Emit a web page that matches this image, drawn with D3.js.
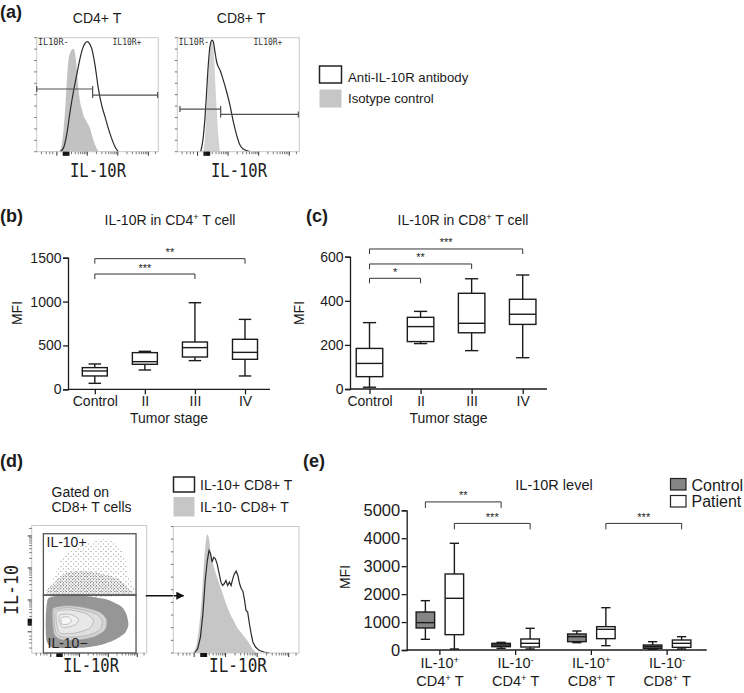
<!DOCTYPE html>
<html><head><meta charset="utf-8">
<script src="https://cdn.jsdelivr.net/npm/d3@7/dist/d3.min.js"></script>
<style>
html,body{margin:0;padding:0;background:#fff;}
svg{display:block;}
</style></head>
<body>
<svg id="fig" width="744" height="693" xmlns="http://www.w3.org/2000/svg"></svg>
<script>
// ======================= DATA =======================
// (a) flow histograms: x = fluorescence channel (0-1024), y = % of mode
const cd4IsoChannel = [191,210,224,238,252,266,281,295,309,323,337,351,365,379,393,421,449,477,505,525];
const cd4IsoCount   = [0,5.8,17.5,35.1,58.5,79,86.5,89.5,90.4,86.5,73.1,55.6,43.9,38,32.2,26.3,20.5,10.2,2.9,0];
const cd4AbChannel  = [196,224,252,281,309,337,365,387,407,426,443,463,491,519,547,575,603,631,659,687];
const cd4AbCount    = [0,2.9,14.6,35.1,52.6,67.3,81.9,90.6,95,96.5,95,90.6,76,55.6,40.9,30.7,20.5,11.7,4.4,0];
const cd8IsoChannel = [218,232,246,260,274,288,302,316,330,344,358];
const cd8IsoCount   = [0,11.7,38,67.3,87.7,97.4,93.6,67.3,38,14.6,0];
const cd8AbChannel  = [196,213,232,246,260,274,291,302,316,330,344,358,386,414,442,470,498,526,554,610];
const cd8AbCount    = [0,8.8,29.2,52.6,76,92.1,97.9,96.5,87.7,78.9,74.5,71.6,62.8,52.6,40.9,26.3,14.6,5.8,2.3,0];
// gates: [start channel, end channel, marker level in % of mode]
const cd4GateNeg = [0, 471, 55];
const cd4GatePos = [471, 1018, 49.7];
const cd8GateNeg = [22, 364, 37.4];
const cd8GatePos = [364, 1016, 32.7];

// (b)/(c) box plots by tumor stage
const stageCategories = ["Control", "II", "III", "IV"];
const cd4Max    = [289, 433, 987, 797];
const cd4Q3     = [247, 418, 539, 570];
const cd4Median = [209, 315, 475, 421];
const cd4Q1     = [152, 285, 368, 342];
const cd4Min    = [68, 220, 327, 152];
const cd4Ticks  = [0, 500, 1000, 1500];
const cd8Max    = [301, 352, 500, 517];
const cd8Q3     = [184, 325, 434, 407];
const cd8Median = [116, 283, 298, 339];
const cd8Q1     = [56, 215, 255, 293];
const cd8Min    = [8, 206, 174, 142];
const cd8Ticks  = [0, 200, 400, 600];
// significance: [from category, to category, label, bracket level in MFI]
const cd4Sig = [["Control", "IV", "**", 1489], ["Control", "III", "***", 1314]];
const cd8Sig = [["Control", "IV", "***", 635], ["Control", "III", "**", 567], ["Control", "II", "*", 502]];

// (d) flow: dot plot regions (IL-10R channel, IL-10 channel) and histograms
const dotGatePos = [104, 929, 465, 958];   // x0, x1, y0, y1
const dotGateNeg = [104, 929, 0, 465];
const sparseCloud = [[178,466],[208,625],[267,758],[386,838],[534,891],[653,918],[772,865],[831,758],[861,625],[890,466]];
const midCloud = [[160,470],[200,560],[300,640],[450,660],[600,640],[760,600],[860,520],[880,460]];
const denseCloud = [[148,439],[237,460],[386,466],[534,452],[683,426],[801,372],[846,306],[861,226],[831,160],[742,106],[623,67],[475,45],[297,40],[178,45],[134,93],[125,200],[128,333]];
const contour1 = [[193,359],[326,380],[475,364],[608,327],[668,266],[653,186],[564,133],[416,106],[267,106],[202,146],[187,253]];
const contour2 = [[208,346],[332,364],[475,343],[588,306],[629,253],[608,186],[519,146],[386,128],[264,130],[214,168],[202,253]];
const contour3 = [[223,332],[341,346],[475,319],[549,266],[519,200],[386,160],[252,160],[223,239]];
const contour4 = [[252,306],[341,311],[416,274],[386,226],[282,205],[246,253]];
const contour5 = [[267,285],[326,290],[356,258],[320,231],[273,231],[261,258]];
const il10NegChannel = [158,185,213,233,249,263,277,291,304,324,352,379,407,435,462,490,518,559,601,628,656,684];
const il10NegCount   = [0,4.7,23.1,44.2,70.5,86.3,93.6,90.2,80.9,70.5,61.3,53.4,45.5,37.6,31.1,25.8,20.5,15.3,10,6.1,2.1,0];
const il10PosChannel = [172,199,221,241,260,277,291,304,316,329,343,357,371,388,401,415,429,443,457,471,484,498,512,526,540,554,567,581,592,606,620,634,648,670,698,739,781];
const il10PosCount   = [0,3.4,12.6,31,57.3,73.1,81,78.4,71.8,75.7,74.4,70.5,63.9,56,53.4,54.7,57.3,53.4,56,53.4,58.6,62.6,64.7,61.3,54.7,50.8,48.9,41.6,33.7,32.3,23.1,15.3,8.7,4.7,2.1,0.8,0];

// flow axis tick positions (channel units)
const flowMajorTicks = [170, 426, 683, 940];
const flowMinorTicks = [40, 80, 110, 135, 247, 293, 325, 350, 370, 387, 402, 415, 503, 549, 581, 606, 626, 643, 658, 671, 760, 806, 838, 863, 883, 900, 915, 928, 1000];
const flowZeroTicks = [225, 232, 240, 248, 255, 262, 270];
const countTicks = [0, 10, 20, 30, 40, 50, 60, 70, 80, 90, 100];

// (e) grouped box plot
const eGroups = ["IL-10+ CD4+", "IL-10- CD4+", "IL-10+ CD8+", "IL-10- CD8+"];
const eGroupLine1 = [["IL-10", "^+"], ["IL-10", "^-"], ["IL-10", "^+"], ["IL-10", "^-"]];
const eGroupLine2 = [["CD4", "^+", " T"], ["CD4", "^+", " T"], ["CD8", "^+", " T"], ["CD8", "^+", " T"]];
const eSeries = ["Control", "Patient"];
const ctrlMax    = [1766, 274, 680, 298];
const ctrlQ3     = [1360, 239, 573, 179];
const ctrlMedian = [979, 179, 477, 119];
const ctrlQ1     = [788, 119, 298, 60];
const ctrlMin    = [382, 60, 262, 24];
const patMax     = [3819, 776, 1515, 477];
const patQ3      = [2721, 394, 835, 358];
const patMedian  = [1850, 239, 740, 239];
const patQ1      = [549, 107, 406, 95];
const patMin     = [36, 36, 155, 36];
const eTicks = [0, 1000, 2000, 3000, 4000, 5000];
// significance: [group1, series1, group2, series2, label, level]
const eSig = [[0, "Control", 1, "Control", "**", 5300], [0, "Patient", 1, "Patient", "***", 4530], [2, "Patient", 3, "Patient", "***", 4530]];

// ======================= DRAWING =======================
const svg = d3.select("#fig");
const FONT = '"Liberation Sans", Arial, Helvetica, sans-serif';
const MONO = '"DejaVu Sans Mono", "Liberation Mono", monospace';
const INK = "#1b1b1b";

svg.append("rect").attr("width", 744).attr("height", 693).attr("fill", "#fff");

function txt(x, y, s, fs, opts = {}) {
  const t = svg.append("text").attr("x", x).attr("y", y)
    .attr("font-family", opts.family || FONT).attr("font-size", fs)
    .attr("fill", opts.fill || INK)
    .attr("text-anchor", opts.anchor || "start");
  if (opts.weight) t.attr("font-weight", opts.weight);
  if (opts.rotate) t.attr("transform", `rotate(${opts.rotate},${x},${y})`);
  if (opts.len) t.attr("textLength", opts.len).attr("lengthAdjust", "spacingAndGlyphs");
  if (Array.isArray(s)) rich(t, s, fs); else t.text(s);
  return t;
}
function rich(sel, parts, fs) {
  let shifted = false;
  parts.forEach(p => {
    const sup = p.startsWith("^");
    const ts = sel.append("tspan").text(sup ? p.slice(1) : p);
    if (sup) { ts.attr("font-size", fs * 0.66).attr("dy", -fs * 0.36); shifted = true; }
    else if (shifted) { ts.attr("dy", fs * 0.36); shifted = false; }
  });
}

// panel letters
txt(0, 18, "(a)", 18, {weight: "bold"});
txt(0, 222, "(b)", 18, {weight: "bold"});
txt(306, 222, "(c)", 18, {weight: "bold"});
txt(0, 467, "(d)", 18, {weight: "bold"});
txt(303, 467, "(e)", 18, {weight: "bold"});

// ---------- flow helpers ----------
function flowPanel(x0, y0, x1, y1, yIsChannel) {
  const g = svg.append("g");
  const xs = d3.scaleLinear().domain([0, 1024]).range([x0, x1]);
  const ys = yIsChannel ? d3.scaleLinear().domain([0, 1024]).range([y1, y0])
                        : d3.scaleLinear().domain([0, 100]).range([y1, y0]);
  return {g, xs, ys, x0, y0, x1, y1, yIsChannel};
}
function flowFrame(p) {
  const {g, xs, ys, x0, y0, x1, y1} = p;
  g.append("rect").attr("x", x0).attr("y", y0).attr("width", x1 - x0).attr("height", y1 - y0)
    .attr("fill", "none").attr("stroke", "#c8c8c8").attr("stroke-width", 1);
  const tk = (xa, ya, xb, yb, w, c) => g.append("line").attr("x1", xa).attr("y1", ya).attr("x2", xb).attr("y2", yb)
    .attr("stroke", c).attr("stroke-width", w);
  flowMajorTicks.forEach(c => tk(xs(c), y1, xs(c), y1 + 4, 1, "#333"));
  flowMinorTicks.forEach(c => tk(xs(c), y1, xs(c), y1 + 2.5, 0.8, "#555"));
  flowZeroTicks.forEach(c => tk(xs(c), y1, xs(c), y1 + 4, 1.4, "#111"));
  if (p.yIsChannel) {
    flowMajorTicks.forEach(c => tk(x0 - 4, ys(c), x0, ys(c), 1, "#333"));
    flowMinorTicks.forEach(c => tk(x0 - 2.5, ys(c), x0, ys(c), 0.8, "#555"));
    flowZeroTicks.forEach(c => tk(x0 - 4, ys(c), x0, ys(c), 1.4, "#111"));
  } else {
    countTicks.forEach(v => tk(x0 - 2.5, ys(v), x0, ys(v), 0.8, "#555"));
  }
}
function histArea(p, ch, ct, fill) {
  const area = d3.area().x(d => p.xs(d[0])).y0(p.ys(0)).y1(d => p.ys(d[1])).curve(d3.curveMonotoneX);
  p.g.append("path").datum(d3.zip(ch, ct)).attr("d", area).attr("fill", fill).attr("stroke", "none");
}
function histLine(p, ch, ct, curve) {
  const line = d3.line().x(d => p.xs(d[0])).y(d => p.ys(d[1])).curve(curve || d3.curveMonotoneX);
  p.g.append("path").datum(d3.zip(ch, ct)).attr("d", line).attr("fill", "none")
    .attr("stroke", "#2a2a2a").attr("stroke-width", 1.2);
}
function gate(p, gd) {
  const [a, b, lvl] = gd, y = p.ys(lvl);
  p.g.append("line").attr("x1", p.xs(a)).attr("x2", p.xs(b)).attr("y1", y).attr("y2", y)
    .attr("stroke", "#505050").attr("stroke-width", 1.2);
  [a, b].forEach(c => p.g.append("line").attr("x1", p.xs(c)).attr("x2", p.xs(c)).attr("y1", y - 3).attr("y2", y + 3)
    .attr("stroke", "#505050").attr("stroke-width", 1.2));
}

// ---------- (a) ----------
txt(97, 23, "CD4+ T", 14, {anchor: "middle"});
txt(241, 23, "CD8+ T", 14, {anchor: "middle"});
const pa1 = flowPanel(36.7, 37.7, 158.3, 151.7, false);
histArea(pa1, cd4IsoChannel, cd4IsoCount, "#c2c2c2");
histLine(pa1, cd4AbChannel, cd4AbCount);
flowFrame(pa1);
gate(pa1, cd4GateNeg); gate(pa1, cd4GatePos);
txt(38, 44.5, "IL10R-", 8.5, {family: MONO, fill: "#333"});
txt(112.5, 44.5, "IL10R+", 8, {family: MONO, fill: "#333"});
const pa2 = flowPanel(177.3, 37.7, 299.3, 151.7, false);
histArea(pa2, cd8IsoChannel, cd8IsoCount, "#d2d2d2");
histLine(pa2, cd8AbChannel, cd8AbCount);
flowFrame(pa2);
gate(pa2, cd8GateNeg); gate(pa2, cd8GatePos);
txt(178.5, 44.5, "IL10R-", 8.5, {family: MONO, fill: "#333"});
txt(253.5, 44.5, "IL10R+", 8, {family: MONO, fill: "#333"});
txt(98, 177, "IL-10R", 20, {anchor: "middle", family: MONO, len: 56, fill: "#222"});
txt(239, 177, "IL-10R", 20, {anchor: "middle", family: MONO, len: 56, fill: "#222"});
// legend (a)
svg.append("rect").attr("x", 319.5).attr("y", 66).attr("width", 22).attr("height", 17)
  .attr("fill", "#fff").attr("stroke", "#222").attr("stroke-width", 1.5);
svg.append("rect").attr("x", 319.5).attr("y", 89.5).attr("width", 22).attr("height", 18).attr("fill", "#c6c6c6");
txt(348, 81.5, "Anti-IL-10R antibody", 13.2);
txt(348, 103, "Isotype control", 13.2);

// ---------- box plot helper ----------
function boxplot(g, cx, w, y, mn, q1, md, q3, mx, fill) {
  const sw = 1.4, cap = w * 0.5;
  const L = (x1, y1, x2, y2) => g.append("line").attr("x1", x1).attr("y1", y1).attr("x2", x2).attr("y2", y2)
    .attr("stroke", INK).attr("stroke-width", sw);
  L(cx, y(mx), cx, y(q3)); L(cx, y(q1), cx, y(mn));
  L(cx - cap / 2, y(mx), cx + cap / 2, y(mx)); L(cx - cap / 2, y(mn), cx + cap / 2, y(mn));
  g.append("rect").attr("x", cx - w / 2).attr("y", y(q3)).attr("width", w).attr("height", Math.max(0.5, y(q1) - y(q3)))
    .attr("fill", fill).attr("stroke", INK).attr("stroke-width", sw);
  L(cx - w / 2, y(md), cx + w / 2, y(md));
}
function bracket(g, xa, xb, yv, drop, label) {
  g.append("path").attr("d", `M${xa},${yv + drop}V${yv}H${xb}V${yv + drop}`)
    .attr("fill", "none").attr("stroke", "#333").attr("stroke-width", 1);
  g.append("text").attr("x", (xa + xb) / 2).attr("y", yv - 2.5).attr("text-anchor", "middle")
    .attr("font-family", FONT).attr("font-size", 11).attr("fill", "#222").text(label);
}
function styleAxis(ax, fs) {
  ax.attr("font-family", FONT).attr("font-size", fs);
  ax.selectAll("text").attr("fill", INK);
  ax.selectAll("line").attr("stroke", INK).attr("stroke-width", 1.3);
  ax.selectAll("path").attr("stroke", INK).attr("stroke-width", 1.3);
}

function stagePanel(axX, x0c, x1c, axEnd, yBottom, yTop, domMax, ticks, mx, q3, md, q1, mn, sig, bw, titleX, titleParts) {
  const g = svg.append("g");
  const y = d3.scaleLinear().domain([0, domMax]).range([yBottom, yTop]);
  const x = d3.scalePoint().domain(stageCategories).range([x0c, x1c]);
  const ay = g.append("g").attr("transform", `translate(${axX},0)`)
    .call(d3.axisLeft(y).tickValues(ticks).tickSize(5).tickPadding(1.5).tickFormat(d3.format("d")));
  styleAxis(ay, 14);
  const ax = g.append("g").attr("transform", `translate(0,${yBottom})`)
    .call(d3.axisBottom(x).tickSize(5).tickPadding(2));
  ax.select(".domain").remove();
  styleAxis(ax, 14);
  g.append("line").attr("x1", axX).attr("x2", axEnd).attr("y1", yBottom).attr("y2", yBottom)
    .attr("stroke", INK).attr("stroke-width", 1.3);
  stageCategories.forEach((c, i) => boxplot(g, x(c), bw, y, mn[i], q1[i], md[i], q3[i], mx[i], "#fff"));
  sig.forEach(s => bracket(g, x(s[0]), x(s[1]), y(s[3]), 5, s[2]));
  txt(titleX, 225, titleParts, 14, {anchor: "middle"});
  txt((axX + axEnd) / 2, 423, "Tumor stage", 14, {anchor: "middle"});
  txt(axX - 46, 313, "MFI", 14, {anchor: "middle", rotate: -90});
}
// ---------- (b) ----------
stagePanel(68, 94.8, 245, 270, 389.3, 257.7, 1500, cd4Ticks, cd4Max, cd4Q3, cd4Median, cd4Q1, cd4Min, cd4Sig, 25,
  170, ["IL-10R in CD4", "^+", " T cell"]);
// ---------- (c) ----------
stagePanel(350, 369.5, 522.7, 547, 389, 256.7, 600, cd8Ticks, cd8Max, cd8Q3, cd8Median, cd8Q1, cd8Min, cd8Sig, 26.5,
  463, ["IL-10R in CD8", "^+", " T cell"]);

// ---------- (d) ----------
txt(51.5, 496.5, "Gated on", 14);
txt(51.5, 511.5, "CD8+ T cells", 14);
svg.append("rect").attr("x", 173.5).attr("y", 477).attr("width", 21).attr("height", 15)
  .attr("fill", "#fff").attr("stroke", "#222").attr("stroke-width", 1.5);
svg.append("rect").attr("x", 173.5).attr("y", 497).attr("width", 21).attr("height", 19.5).attr("fill", "#c6c6c6");
txt(200, 490, "IL-10+ CD8+ T", 14);
txt(200, 511.5, "IL-10- CD8+ T", 14);

// dot plot
const pd1 = flowPanel(31.7, 525.5, 146.7, 653, true);
const defs = svg.append("defs");
const pat1 = defs.append("pattern").attr("id", "sparse").attr("patternUnits", "userSpaceOnUse").attr("width", 5).attr("height", 5);
pat1.append("rect").attr("x", 0.5).attr("y", 1).attr("width", 1).attr("height", 1).attr("fill", "#8a8a8a");
pat1.append("rect").attr("x", 3).attr("y", 3.5).attr("width", 1).attr("height", 1).attr("fill", "#9a9a9a");
const pat2 = defs.append("pattern").attr("id", "medium").attr("patternUnits", "userSpaceOnUse").attr("width", 3).attr("height", 3);
pat2.append("rect").attr("x", 0).attr("y", 0).attr("width", 1.2).attr("height", 1.2).attr("fill", "#8a8a8a");
pat2.append("rect").attr("x", 1.6).attr("y", 1.6).attr("width", 1.2).attr("height", 1.2).attr("fill", "#999");
const closedLine = d3.line().x(d => pd1.xs(d[0])).y(d => pd1.ys(d[1])).curve(d3.curveCardinalClosed.tension(0.3));
pd1.g.append("path").datum(sparseCloud).attr("d", closedLine).attr("fill", "url(#sparse)");
pd1.g.append("path").datum(midCloud).attr("d", closedLine).attr("fill", "url(#medium)");
pd1.g.append("path").datum(denseCloud).attr("d", closedLine).attr("fill", "#969696");
[[contour1, "#d4d4d4"], [contour2, "#dedede"], [contour3, "#e8e8e8"], [contour4, "#f0f0f0"], [contour5, "#f6f6f6"]].forEach(([c, f]) =>
  pd1.g.append("path").datum(c).attr("d", closedLine).attr("fill", f).attr("stroke", "#a6a6a6").attr("stroke-width", 0.7));
flowFrame(pd1);
[dotGatePos, dotGateNeg].forEach(gd => pd1.g.append("rect")
  .attr("x", pd1.xs(gd[0])).attr("y", pd1.ys(gd[3])).attr("width", pd1.xs(gd[1]) - pd1.xs(gd[0]))
  .attr("height", pd1.ys(gd[2]) - pd1.ys(gd[3])).attr("fill", "none").attr("stroke", "#555").attr("stroke-width", 1.3));
txt(46.5, 546.5, "IL-10+", 14, {fill: "#222"});
txt(47.5, 648, "IL-10\u2212", 14, {fill: "#222"});
txt(18, 590, "IL-10", 20, {anchor: "middle", family: MONO, len: 50, rotate: -90, fill: "#222"});
txt(91, 672, "IL-10R", 20, {anchor: "middle", family: MONO, len: 56, fill: "#222"});

// arrow
defs.append("marker").attr("id", "arrowhead").attr("viewBox", "0 0 10 10").attr("refX", 9).attr("refY", 5)
  .attr("markerWidth", 8).attr("markerHeight", 8).attr("markerUnits", "userSpaceOnUse").attr("orient", "auto")
  .append("path").attr("d", "M0,0L10,5L0,10z").attr("fill", "#111");
svg.append("line").attr("x1", 145.7).attr("x2", 183.5).attr("y1", 595.7).attr("y2", 595.7)
  .attr("stroke", "#111").attr("stroke-width", 1.4).attr("marker-end", "url(#arrowhead)");

// histogram (d)
const pd2 = flowPanel(173.3, 526.5, 299, 653, false);
histArea(pd2, il10NegChannel, il10NegCount, "#c6c6c6");
histLine(pd2, il10PosChannel, il10PosCount, d3.curveLinear);
flowFrame(pd2);
txt(238, 672, "IL-10R", 20, {anchor: "middle", family: MONO, len: 58, fill: "#222"});

// ---------- (e) ----------
(function () {
  const g = svg.append("g");
  const y = d3.scaleLinear().domain([0, 5000]).range([650, 510.3]);
  const xg = d3.scaleBand().domain(eGroups).range([402, 705]).padding(0);
  const xs = d3.scaleBand().domain(eSeries).range([-29, 29]).padding(0);
  const cxOf = (gi, s) => xg(eGroups[gi]) + xg.bandwidth() / 2 + xs(s) + xs.bandwidth() / 2;
  const ay = g.append("g").attr("transform", "translate(406.7,0)")
    .call(d3.axisLeft(y).tickValues(eTicks).tickSize(5).tickPadding(1.5).tickFormat(d3.format("d")));
  styleAxis(ay, 16.5);
  g.append("line").attr("x1", 406.7).attr("x2", 706.7).attr("y1", 650).attr("y2", 650)
    .attr("stroke", INK).attr("stroke-width", 1.3);
  eGroups.forEach((gr, i) => {
    const c = xg(gr) + xg.bandwidth() / 2;
    g.append("line").attr("x1", c).attr("x2", c).attr("y1", 650).attr("y2", 655).attr("stroke", INK).attr("stroke-width", 1.3);
    txt(c, 668, eGroupLine1[i], 14.5, {anchor: "middle"});
    txt(c, 686, eGroupLine2[i], 14.5, {anchor: "middle"});
    boxplot(g, cxOf(i, "Control"), 18.5, y, ctrlMin[i], ctrlQ1[i], ctrlMedian[i], ctrlQ3[i], ctrlMax[i], "#858585");
    boxplot(g, cxOf(i, "Patient"), 18.5, y, patMin[i], patQ1[i], patMedian[i], patQ3[i], patMax[i], "#fff");
  });
  eSig.forEach(s => bracket(g, cxOf(s[0], s[1]), cxOf(s[2], s[3]), y(s[5]), 6, s[4]));
  txt(554, 490, "IL-10R level", 14.5, {anchor: "middle"});
  txt(350, 577, "MFI", 14, {anchor: "middle", rotate: -90});
  // legend
  g.append("rect").attr("x", 670.5).attr("y", 478.5).attr("width", 15.5).attr("height", 11.5)
    .attr("fill", "#858585").attr("stroke", "#222").attr("stroke-width", 1.2);
  g.append("rect").attr("x", 670.5).attr("y", 495.5).attr("width", 15.5).attr("height", 11.5)
    .attr("fill", "#fff").attr("stroke", "#222").attr("stroke-width", 1.2);
  txt(691.5, 490.5, "Control", 16);
  txt(691.5, 507, "Patient", 16);
})();
</script>
</body></html>
